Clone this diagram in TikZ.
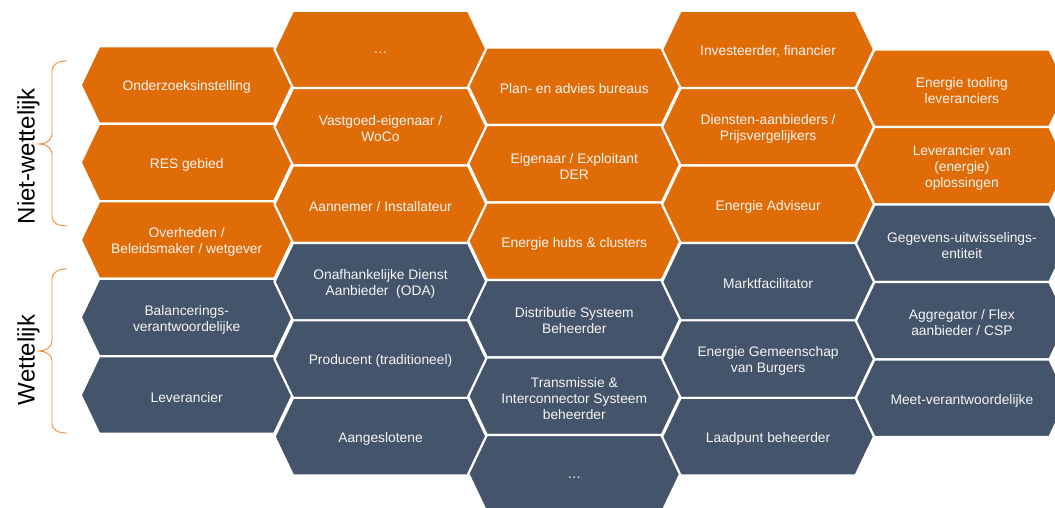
\documentclass[tikz,border=0pt]{standalone}
\usepackage{fontspec}
\setmainfont{Liberation Sans}
\usepackage{tikz}
\usetikzlibrary{shapes.symbols, positioning}
\definecolor{RolOrange}{HTML}{E06C07}
\definecolor{RolBlue}{HTML}{44546A}
\definecolor{BraceOrange}{HTML}{EC8A3C}
\tikzset{
    % Hexagon cell (pointed left and right), a little space above the text
    hexcell/.style={signal, signal to=west and east, signal pointer angle=129,
        minimum width=212pt, minimum height=77.5pt, inner sep=0pt,
        draw=white, line width=2.2pt, text=white!96!black, align=center,
        font=\fontsize{13.8}{16}\selectfont,
        execute at begin node={\vbox\bgroup\vskip4.5pt\hbox\bgroup},
        execute at end node={\egroup\egroup}},
    % Non-statutory role (orange)
    vrijrol/.style={hexcell, fill=RolOrange},
    % Statutory role (blue-gray)
    wetrol/.style={hexcell, fill=RolBlue},
    % Side label (rotated)
    zijlabel/.style={rotate=90, font=\fontsize{24}{28}\selectfont},
    % Curly brace line
    accolade/.style={BraceOrange, line width=0.9pt},
}

\begin{document}
\begin{tikzpicture}[x=1pt, y=-1pt]
    \useasboundingbox (0,0) rectangle (1055,507);
    \node[vrijrol] (onderzoek) at (186.7,85) {Onderzoeksinstelling};
    \node[vrijrol] (resgebied) at (186.7,162.5) {RES gebied};
    \node[vrijrol] (overheden) at (186.7,240) {Overheden /\\Beleidsmaker / wetgever};
    \node[wetrol] (brp) at (186.7,317.5) {Balancerings-\\verantwoordelijke};
    \node[wetrol] (leverancier) at (186.7,395) {Leverancier};
    \node[vrijrol] (meera) at (380.5,49.4) {\raisebox{1pt}{\dots}\strut};
    \node[vrijrol] (vastgoed) at (380.5,126.8) {Vastgoed-eigenaar /\\WoCo};
    \node[vrijrol] (aannemer) at (380.5,204.2) {Aannemer / Installateur};
    \node[wetrol] (oda) at (380.5,281.7) {Onafhankelijke Dienst\\Aanbieder\ \ (ODA)};
    \node[wetrol] (producent) at (380.5,359.1) {Producent (traditioneel)};
    \node[wetrol] (aangeslotene) at (380.5,436.6) {Aangeslotene};
    \node[vrijrol] (planbureau) at (574.3,86.3) {Plan- en advies bureaus};
    \node[vrijrol] (eigenaar) at (574.3,163.8) {Eigenaar / Exploitant\\DER};
    \node[vrijrol] (hubs) at (574.3,241.3) {Energie hubs \& clusters};
    \node[wetrol] (dsb) at (574.3,318.8) {Distributie Systeem\\Beheerder};
    \node[wetrol] (tsb) at (574.3,396.3) {Transmissie \&\\Interconnector Systeem\\beheerder};
    \node[wetrol] (meerb) at (574.3,473.8) {\raisebox{1pt}{\dots}\strut};
    \node[vrijrol] (investeerder) at (768.1,49.4) {Investeerder, financier};
    \node[vrijrol] (diensten) at (768.1,126.8) {Diensten-aanbieders /\\Prijsvergelijkers};
    \node[vrijrol] (adviseur) at (768.1,204.2) {Energie Adviseur};
    \node[wetrol] (marktfac) at (768.1,281.7) {Marktfacilitator};
    \node[wetrol] (gemeenschap) at (768.1,359.1) {Energie Gemeenschap\\van Burgers};
    \node[wetrol] (laadpunt) at (768.1,436.6) {Laadpunt beheerder};
    \node[vrijrol] (tooling) at (961.9,88.3) {Energie tooling\\leveranciers};
    \node[vrijrol] (oplossingen) at (961.9,165.8) {Leverancier van\\(energie)\\oplossingen};
    \node[wetrol] (gegevens) at (961.9,243.3) {Gegevens-uitwisselings-\\entiteit};
    \node[wetrol] (aggregator) at (961.9,320.8) {Aggregator / Flex\\aanbieder / CSP};
    \node[wetrol] (meetver) at (961.9,398.3) {Meet-verantwoordelijke};
    \node[zijlabel] (nietwet) at (28.5,156) {Niet-wettelijk};
    \node[zijlabel] (wet) at (28.5,360) {Wettelijk};
    \draw[accolade] (67,61) .. controls (58,61) and (52,64) .. (52,72) -- (52,134)
        .. controls (52,140) and (46,144) .. (39,144) .. controls (46,144) and (52,148) .. (52,154)
        -- (52,216) .. controls (52,223) and (58,226) .. (67,226);
    \draw[accolade] (67,269) .. controls (58,269) and (52,272) .. (52,280) -- (52,341)
        .. controls (52,347) and (46,351) .. (39,351) .. controls (46,351) and (52,355) .. (52,361)
        -- (52,423) .. controls (52,430) and (58,433) .. (67,433);
\end{tikzpicture}
\end{document}
